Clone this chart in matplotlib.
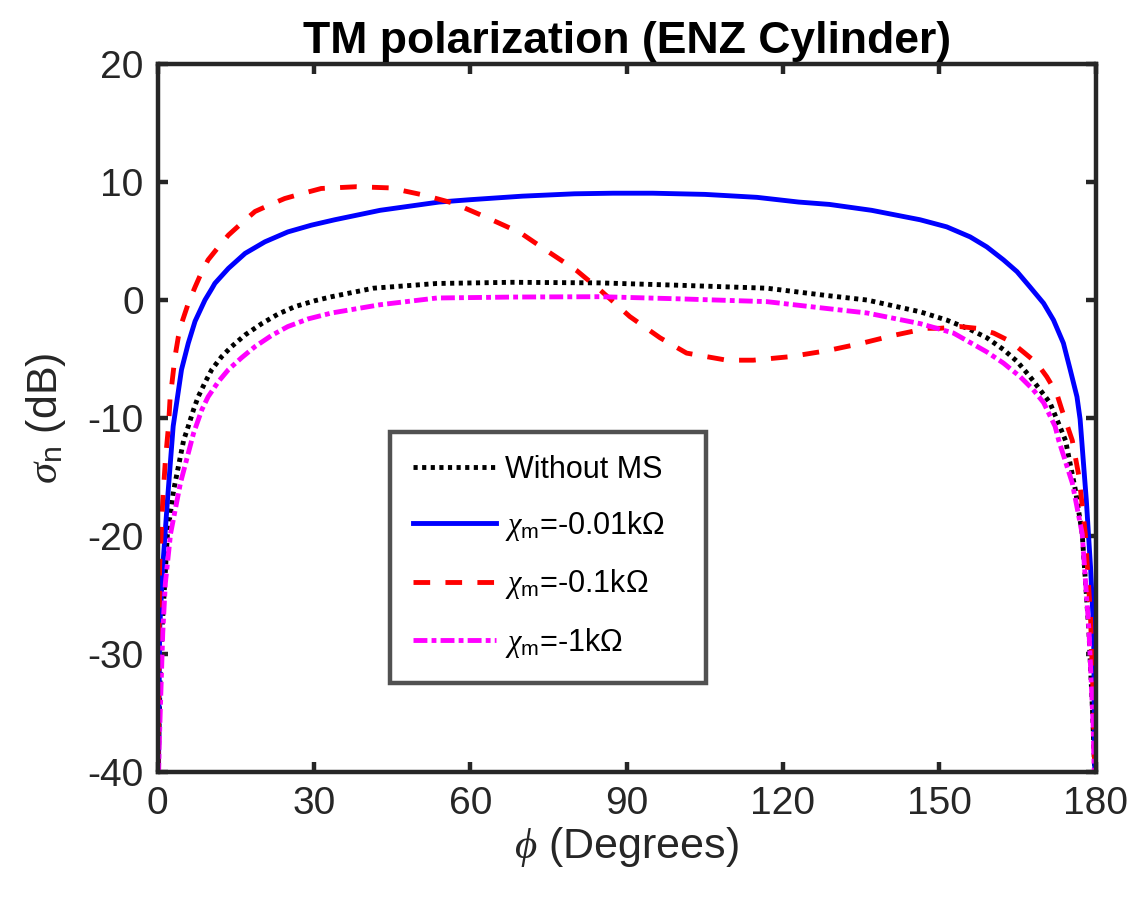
import matplotlib
matplotlib.use("Agg")
import matplotlib.pyplot as plt

plt.rcParams["font.family"] = ["Liberation Sans", "DejaVu Sans"]
plt.rcParams["mathtext.fontset"] = "custom"
plt.rcParams["mathtext.rm"] = "Liberation Sans"
plt.rcParams["mathtext.it"] = "Liberation Serif:italic"
plt.rcParams["mathtext.bf"] = "Liberation Sans:bold"
plt.rcParams["lines.scale_dashes"] = False
plt.rcParams["axes.unicode_minus"] = False

# phi (degrees) and sigma_n (dB), one pair of arrays per curve
phi_none = [0, 0.2, 0.6, 1.2, 1.9, 3.1, 5.0, 5.9, 6.9, 7.8, 9.1, 10.4, 12.3, 14.2, 16.8,
            20, 23.1, 26.3, 30.2, 33.4, 41.4, 53.6, 68, 84.9, 100, 116.9, 128, 136.1,
            146.3, 151.4, 155.9, 159.1, 162.3, 164.9, 167.4, 169.3, 171.2, 173.1, 174.2,
            176.1, 177.4, 178.7, 179.4, 179.8, 180]
sig_none = [-45, -38, -30, -25.4, -19.8, -16.1, -11.9, -10.7, -9.3, -8.2, -7.0, -5.9,
            -4.8, -3.95, -2.96, -2.0, -1.2, -0.57, -0.06, 0.28, 1.0, 1.4, 1.5, 1.45,
            1.25, 1.0, 0.4, 0.0, -1.0, -1.7, -2.5, -3.2, -4.2, -5.2, -6.5, -7.6, -8.7,
            -10.7, -11.9, -16.1, -19.8, -28.2, -35, -40, -45]

phi_001 = [0, 0.2, 0.4, 1.0, 1.9, 3.0, 3.67, 4.6, 5.9, 7.2, 9.1, 10.4, 11.0, 13.6, 16.8,
           20.6, 25.0, 29.5, 34, 42.7, 54, 60, 70, 80, 87.4, 95, 105, 115, 123, 128.9,
           137, 146.3, 151.4, 155.9, 159.1, 162.3, 164.9, 167.4, 170.0, 171.9, 173.8,
           175.1, 176.4, 177.0, 178.2, 179.0, 179.6, 179.8, 180]
sig_001 = [-45, -39.5, -28, -22.6, -17, -10.7, -8.7, -5.9, -3.66, -1.8, 0.0, 0.95, 1.41,
           2.68, 3.95, 4.93, 5.77, 6.34, 6.8, 7.6, 8.3, 8.5, 8.8, 9.0, 9.05, 9.05, 8.95,
           8.7, 8.3, 8.1, 7.6, 6.8, 6.2, 5.35, 4.5, 3.4, 2.4, 1.1, -0.28, -1.7, -3.66,
           -5.9, -8.2, -10.1, -17, -22.6, -28, -39.5, -45]

phi_01 = [0, 0.2, 0.4, 1.0, 1.5, 2.1, 2.5, 2.7, 3.35, 4.0, 4.6, 5.9, 7.2, 8.5, 9.7,
          11.7, 13.6, 16.1, 18.7, 21.2, 24.4, 27.6, 31.4, 38.2, 44.6, 51, 56.8, 63.1,
          69.6, 74.6, 80.4, 84.9, 90.6, 96.4, 101.5, 109.2, 114.3, 121.4, 128.4, 134.8,
          141.2, 147.6, 150.1, 153.9, 157.2, 160.4, 163.6, 166.1, 168.7, 170.6, 172.5,
          173.5, 175.5, 176.8, 178, 179, 179.6, 180]
sig_01 = [-45, -35, -22.6, -17, -13.6, -10.7, -7.6, -7.3, -4.8, -3.1, -2.0, -0.28, 1.1,
          2.4, 3.4, 4.5, 5.5, 6.5, 7.5, 8.0, 8.6, 9.0, 9.45, 9.6, 9.5, 8.9, 8.2, 7.0,
          5.7, 4.2, 2.5, 0.85, -1.4, -3.2, -4.5, -5.1, -5.1, -4.8, -4.3, -3.7, -3.0,
          -2.4, -2.4, -2.25, -2.4, -2.8, -3.5, -4.4, -5.35, -6.5, -7.9, -9.3, -11.9,
          -15, -19.8, -26.8, -35, -45]

phi_1 = [0, 0.3, 1.0, 1.5, 2.5, 4.4, 6.9, 8.5, 9.7, 11.7, 13.6, 16.1, 18.7, 21.9, 25,
         28.9, 33.4, 42.7, 53.6, 68.2, 84.9, 100, 116.9, 128, 136.1, 146.3, 152.7, 159.1,
         162.3, 165.5, 168.0, 170, 172.2, 172.9, 175.5, 177.4, 178.7, 179.5, 180]
sig_1 = [-45, -38, -28.2, -24, -19.8, -15.5, -11.3, -9.3, -8.2, -6.9, -5.9, -4.9, -3.95,
         -3.0, -2.25, -1.6, -1.1, -0.4, 0.17, 0.25, 0.28, 0.1, -0.14, -0.7, -1.1, -2.0,
         -2.8, -4.4, -5.35, -6.5, -7.6, -8.7, -10.7, -11.9, -15.5, -19.8, -28, -36, -45]

labels = ["Without MS",
          r"$\chi_{\rm m}$=-0.01k$\Omega$",
          r"$\chi_{\rm m}$=-0.1k$\Omega$",
          r"$\chi_{\rm m}$=-1k$\Omega$"]
x_ticks = [0, 30, 60, 90, 120, 150, 180]
y_ticks = [-40, -30, -20, -10, 0, 10, 20]

fig = plt.figure(figsize=(11.35, 9), dpi=100)
ax = fig.add_axes([0.1388, 0.1422, 0.8266, 0.7867])

lw = 3.5
ax.plot(phi_none, sig_none, color="black", lw=lw, linestyle=(0, (3.0, 3.2)),
        dash_capstyle="butt", label=labels[0])
ax.plot(phi_001, sig_001, color="#0000ff", lw=lw, label=labels[1])
ax.plot(phi_01, sig_01, color="#ff0000", lw=lw, linestyle=(0, (12, 11)),
        dash_capstyle="butt", label=labels[2])
ax.plot(phi_1, sig_1, color="#ff00ff", lw=lw, linestyle=(0, (10, 3, 3.5, 3)),
        dash_capstyle="butt", label=labels[3])

ax.set_xlim(0, 180)
ax.set_ylim(-40, 20)
ax.set_xticks(x_ticks)
ax.set_yticks(y_ticks)

frame_col = "#262626"
for sp in ax.spines.values():
    sp.set_color(frame_col)
    sp.set_linewidth(3.2)
ax.tick_params(direction="in", length=7, width=3.2, color=frame_col,
               labelsize=28, labelcolor=frame_col, top=True, right=True, pad=10)

ax.set_xlabel(r"$\phi$ (Degrees)", fontsize=31, color=frame_col, labelpad=2)
ax.set_ylabel(r"$\sigma_{\rm n}$ (dB)", fontsize=31, color=frame_col, labelpad=14)
ax.set_title("TM polarization (ENZ Cylinder)", fontsize=32, fontweight="bold", pad=8)

leg = ax.legend(loc="lower left", bbox_to_anchor=(0.248, 0.126, 0.337, 0.355),
                fontsize=22, frameon=True, fancybox=False, handlelength=2.7,
                borderpad=0.75, labelspacing=0.8, handletextpad=0.3, mode="expand",
                borderaxespad=0)
leg.get_frame().set_edgecolor(frame_col)
leg.get_frame().set_linewidth(3.2)

fig.savefig("out.png", dpi=100)
